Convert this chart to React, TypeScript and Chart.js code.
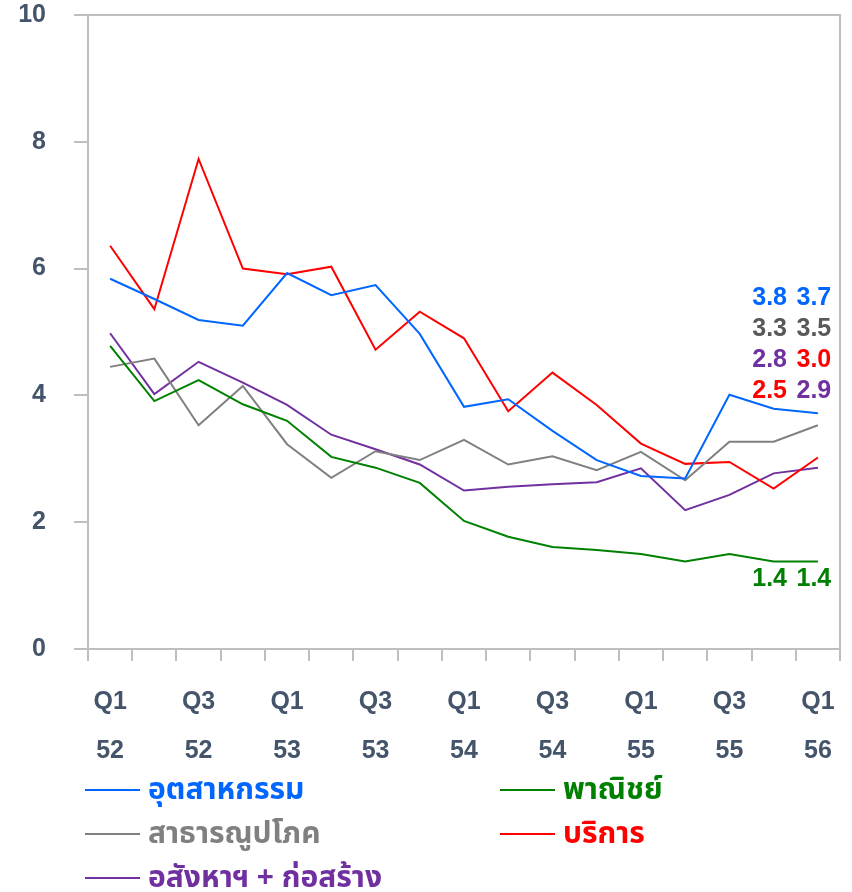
import React, { useEffect, useRef } from 'react';
import { Chart, registerables } from 'chart.js';

Chart.register(...registerables);

// ---- data ----
const quarterLabels = ['Q1', 'Q2', 'Q3', 'Q4', 'Q1', 'Q2', 'Q3', 'Q4', 'Q1', 'Q2', 'Q3', 'Q4', 'Q1', 'Q2', 'Q3', 'Q4', 'Q1'];
const yearLabels = ['52', '52', '52', '52', '53', '53', '53', '53', '54', '54', '54', '54', '55', '55', '55', '55', '56'];

const industry = [5.84, 5.52, 5.19, 5.10, 5.93, 5.58, 5.74, 4.97, 3.82, 3.94, 3.44, 2.98, 2.73, 2.69, 4.01, 3.79, 3.72];
const commerce = [4.78, 3.91, 4.24, 3.86, 3.60, 3.03, 2.86, 2.62, 2.02, 1.77, 1.61, 1.56, 1.50, 1.38, 1.50, 1.38, 1.38];
const utilities = [4.45, 4.58, 3.53, 4.15, 3.23, 2.70, 3.12, 2.98, 3.30, 2.91, 3.04, 2.82, 3.11, 2.66, 3.27, 3.27, 3.53];
const services = [6.36, 5.36, 7.73, 6.00, 5.91, 6.03, 4.72, 5.32, 4.90, 3.75, 4.36, 3.85, 3.24, 2.92, 2.95, 2.53, 3.02];
const realEstate = [4.98, 4.02, 4.53, 4.20, 3.85, 3.38, 3.15, 2.91, 2.50, 2.56, 2.60, 2.63, 2.85, 2.19, 2.43, 2.77, 2.86];

const seriesNames = ['อุตสาหกรรม', 'พาณิชย์', 'สาธารณูปโภค', 'บริการ', 'อสังหาฯ + ก่อสร้าง'];
const seriesData = [industry, commerce, utilities, services, realEstate];
const lineColors = ['#0066FF', '#008000', '#808080', '#FF0000', '#7030A0'];
const labelColors = ['#0066FF', '#008000', '#595959', '#FF0000', '#7030A0'];
const legendTextColors = ['#0066FF', '#008000', '#808080', '#FF0000', '#7030A0'];

const labeledIndices = [15, 16];
const belowSeries = 1; // commerce label sits below its line

// ---- layout constants ----
const CANVAS_W = 852;
const CANVAS_H = 770;
const AXIS_COLOR = '#BFBFBF';
const TICK_COLOR = '#44546A';
const FONT_FAMILY = '"Liberation Sans", Arial, Helvetica, sans-serif';
const THAI_FONT = '"Noto Sans Thai", "Noto Sans", "Liberation Sans", Arial, sans-serif';
const LABEL_TOP_VALUE = 5.54;
const LABEL_ROW_PX = 31;

const framePlugin = {
  id: 'frame',
  beforeDatasetsDraw(chart: any) {
    const { ctx, chartArea } = chart;
    const { left, top, right, bottom } = chartArea;
    ctx.save();
    ctx.strokeStyle = AXIS_COLOR;
    ctx.lineWidth = 2;
    ctx.beginPath();
    ctx.moveTo(left, bottom);
    ctx.lineTo(left, top);
    ctx.lineTo(right, top);
    ctx.lineTo(right, bottom);
    ctx.stroke();
    ctx.restore();
  },
};

const endLabelPlugin = {
  id: 'endLabels',
  afterDatasetsDraw(chart: any) {
    const { ctx, scales } = chart;
    const x = scales.x;
    const y = scales.y;
    ctx.save();
    ctx.font = 'bold 25px ' + FONT_FAMILY;
    ctx.textAlign = 'center';
    ctx.textBaseline = 'middle';
    labeledIndices.forEach((i) => {
      const px = x.getPixelForValue(i) - 4;
      const stack = chart.data.datasets
        .map((d: any, k: number) => ({ k, v: d.data[i] as number }))
        .filter((o: any) => o.k !== belowSeries)
        .sort((a: any, b: any) => b.v - a.v);
      const top = y.getPixelForValue(LABEL_TOP_VALUE);
      stack.forEach((o: any, r: number) => {
        ctx.fillStyle = labelColors[o.k];
        ctx.fillText(o.v.toFixed(1), px, top + r * LABEL_ROW_PX);
      });
      const g = chart.data.datasets[belowSeries].data[i] as number;
      ctx.fillStyle = labelColors[belowSeries];
      ctx.fillText(g.toFixed(1), px, y.getPixelForValue(g) + 18);
    });
    ctx.restore();
  },
};

export default function App() {
  const canvasRef = useRef<HTMLCanvasElement | null>(null);

  useEffect(() => {
    if (!canvasRef.current) return;
    const chart = new Chart(canvasRef.current, {
      type: 'line',
      data: {
        labels: quarterLabels.map((q, i) => [q, yearLabels[i]]),
        datasets: seriesNames.map((name, k) => ({
          label: name,
          data: seriesData[k],
          borderColor: lineColors[k],
          backgroundColor: lineColors[k],
          borderWidth: 2,
          pointRadius: 0,
          pointHoverRadius: 0,
          tension: 0,
          fill: false,
        })),
      },
      options: {
        animation: false,
        responsive: false,
        maintainAspectRatio: false,
        layout: { padding: { top: 15, right: 12, left: 0, bottom: 0 } },
        plugins: {
          legend: { display: false },
          tooltip: { enabled: false },
        },
        scales: {
          x: {
            type: 'category',
            offset: true,
            grid: {
              offset: true,
              drawOnChartArea: false,
              drawTicks: true,
              tickLength: 12,
              color: AXIS_COLOR,
              lineWidth: 2,
            },
            border: { display: true, color: AXIS_COLOR, width: 2 },
            ticks: {
              autoSkip: false,
              maxRotation: 0,
              minRotation: 0,
              color: TICK_COLOR,
              padding: 17,
              font: { family: FONT_FAMILY, size: 25, weight: 'bold', lineHeight: 1.96 },
              callback: (_v: any, i: number) => (i % 2 === 0 ? [quarterLabels[i], yearLabels[i]] : ''),
            },
            afterFit: (scale: any) => {
              scale.height = CANVAS_H - 649;
            },
          },
          y: {
            min: 0,
            max: 10,
            grid: {
              drawOnChartArea: false,
              drawTicks: true,
              tickLength: 14,
              color: AXIS_COLOR,
              lineWidth: 2,
            },
            border: { display: true, color: AXIS_COLOR, width: 2 },
            ticks: {
              stepSize: 2,
              color: TICK_COLOR,
              padding: 28,
              font: { family: FONT_FAMILY, size: 25, weight: 'bold' },
            },
            afterFit: (scale: any) => {
              scale.width = 88;
              scale.paddingTop = 12;
              scale.paddingBottom = 12;
            },
          },
        },
      },
      plugins: [framePlugin, endLabelPlugin],
    } as any);
    return () => chart.destroy();
  }, []);

  const legendItem = (k: number) => (
    <div key={k} style={{ display: 'flex', alignItems: 'center', height: 44 }}>
      <span
        style={{
          display: 'inline-block',
          width: 55,
          height: 2,
          background: lineColors[k],
          marginRight: 8,
          flex: 'none',
        }}
      />
      <span
        style={{
          color: legendTextColors[k],
          fontFamily: THAI_FONT,
          fontWeight: 'bold',
          fontSize: 30,
          lineHeight: '44px',
          whiteSpace: 'nowrap',
        }}
      >
        {seriesNames[k]}
      </span>
    </div>
  );

  return (
    <div
      style={{
        position: 'absolute',
        left: 0,
        top: 0,
        width: CANVAS_W,
        height: 892,
        background: '#FFFFFF',
        overflow: 'hidden',
      }}
    >
      <canvas ref={canvasRef} width={CANVAS_W} height={CANVAS_H} style={{ display: 'block' }} />
      <div
        style={{
          position: 'absolute',
          left: 85,
          top: 768,
          display: 'grid',
          gridTemplateColumns: '415px 300px',
        }}
      >
        {legendItem(0)}
        {legendItem(1)}
        {legendItem(2)}
        {legendItem(3)}
        {legendItem(4)}
      </div>
    </div>
  );
}
